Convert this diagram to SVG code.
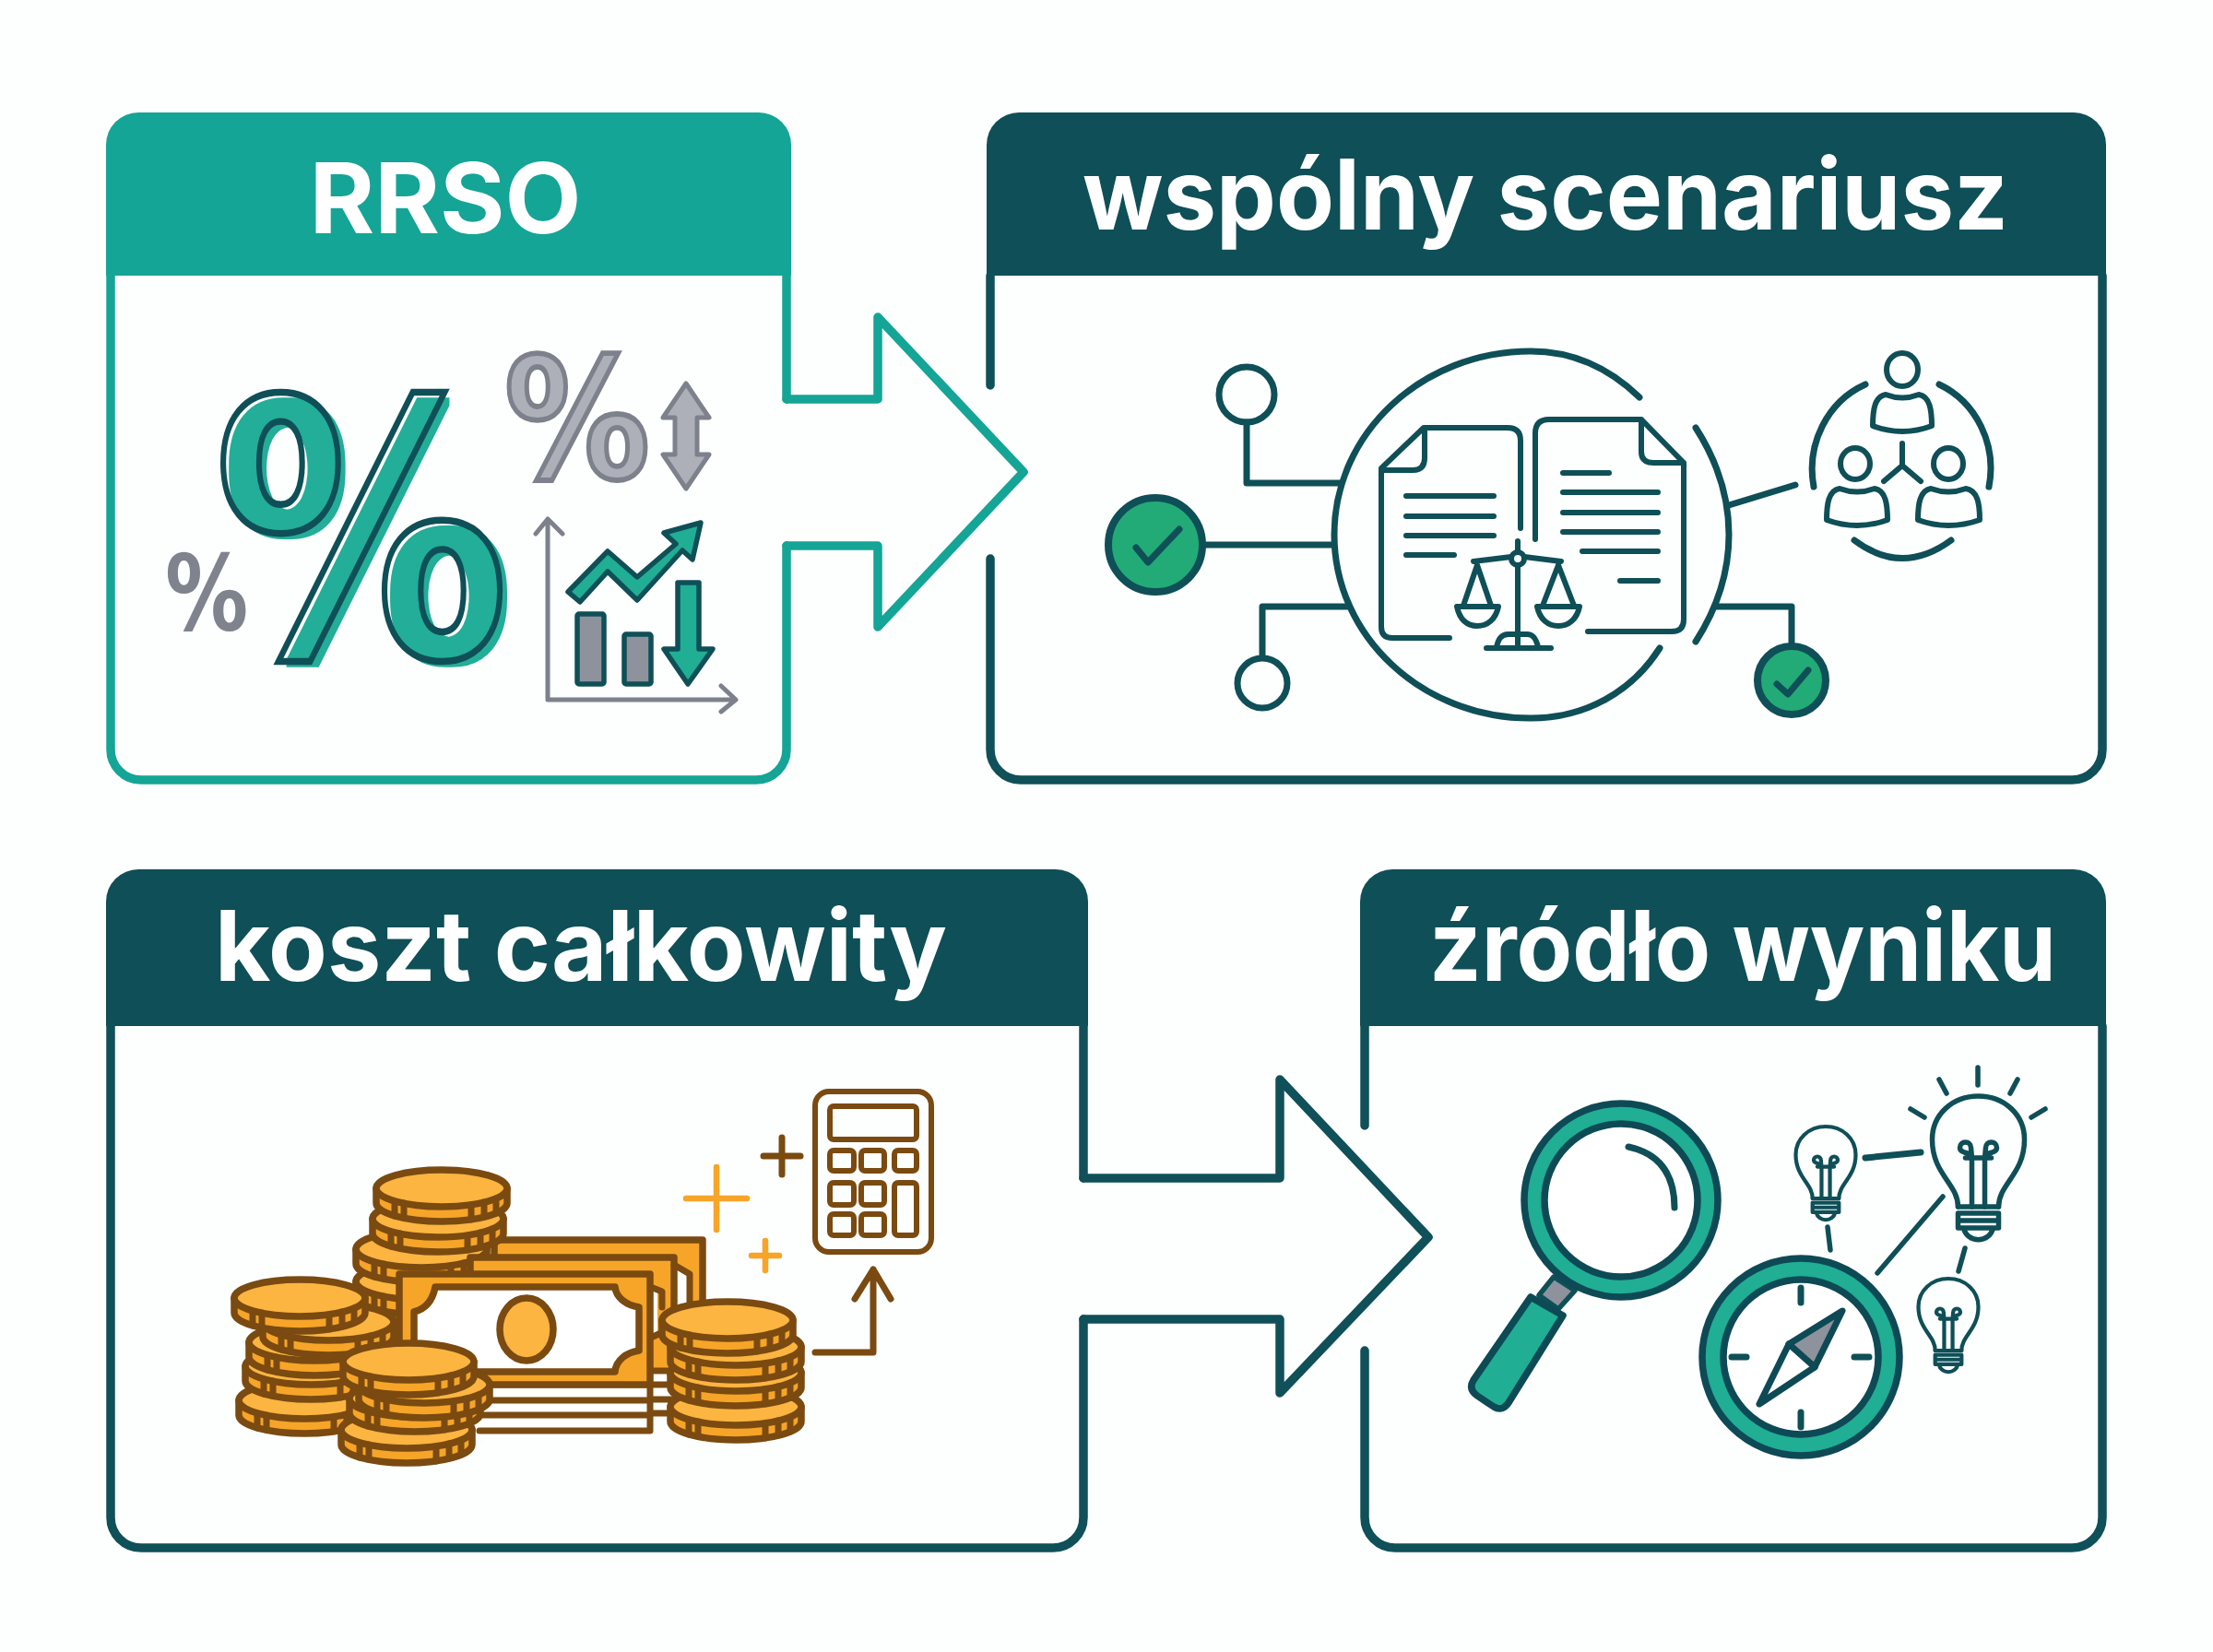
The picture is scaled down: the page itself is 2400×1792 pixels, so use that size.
<svg xmlns="http://www.w3.org/2000/svg" xmlns:xlink="http://www.w3.org/1999/xlink" width="2400" height="1792" viewBox="0 0 2400 1792">
<style>
.title{font-family:"Inter","Open Sans",sans-serif;font-weight:700;font-size:106px;fill:#fff}
.pct{font-family:"DejaVu Sans",sans-serif;font-weight:700;text-anchor:middle}
.b{fill:none;stroke-width:9.5;stroke-linecap:round;stroke-linejoin:round}
.tl{stroke:#14a596}.dk{stroke:#0f5059}
.l{fill:none;stroke:#0f4f57;stroke-width:7;stroke-linecap:round;stroke-linejoin:round}
.t{fill:none;stroke:#0f4f57;stroke-width:6;stroke-linecap:round;stroke-linejoin:round}
.g{fill:none;stroke:#7c818b;stroke-width:5;stroke-linecap:round;stroke-linejoin:round}
.br{fill:none;stroke:#7a4a10;stroke-width:7;stroke-linecap:round;stroke-linejoin:round}
.o{fill:#f6a528;stroke:#7a4a10;stroke-width:7.5;stroke-linejoin:round}
.ol{fill:#fbb540;stroke:#7a4a10;stroke-width:7.5}
.ring{fill:#20ae94;stroke:#0d4a55;stroke-width:7.5;stroke-linejoin:round}
.w{fill:#fff;stroke:#0d4a55;stroke-width:7.5;stroke-linejoin:round}
.gr{fill:#8e929c;stroke:#0f4f57;stroke-width:5.5;stroke-linejoin:round}
.ok{fill:#22ab77;stroke:#0f4f57;stroke-width:8}
</style>
<defs>
<filter id="offsetFill" x="-10%" y="-10%" width="125%" height="125%" color-interpolation-filters="sRGB">
<feColorMatrix in="SourceGraphic" type="matrix" values="0 0 0 0 0 0 0 0 0 0 0 0 0 0 0 1 0 0 0 0" result="r"/>
<feComposite in="r" in2="SourceAlpha" operator="in" result="rm"/>
<feMorphology in="rm" operator="dilate" radius="4.5" result="rd"/>
<feOffset in="rd" dx="8" dy="6" result="ro"/>
<feFlood flood-color="#22ae98" result="tc"/>
<feComposite in="tc" in2="ro" operator="in" result="teal"/>
<feColorMatrix in="SourceGraphic" type="matrix" values="0 0 0 0 0 0 0 0 0 0 0 0 0 0 0 0 0 1 0 0" result="bl"/>
<feComposite in="bl" in2="SourceAlpha" operator="in" result="bm"/>
<feFlood flood-color="#0f4f57" result="dc"/>
<feComposite in="dc" in2="bm" operator="in" result="dark"/>
<feMerge><feMergeNode in="teal"/><feMergeNode in="dark"/></feMerge>
</filter>
<g id="coin">
<path class="o" d="M-71 0V16A71 20 0 0 0 71 16V0Z"/>
<ellipse class="ol" cx="0" cy="0" rx="71" ry="20"/>
<path class="br" d="M-51 14V30M-41 16V32M32 18V34M46 15V31M59 11V27"/>
</g>
<g id="bulb">
<path d="M-22 120C-22 95-50 85-50 47C-50 20-28 0 0 0C28 0 50 20 50 47C50 85 22 95 22 120"/>
<path d="M-7 120V67C-7 60-20 63-20 56C-20 48-8 48-8 56L-7 67M7 120V67C7 60 20 63 20 56C20 48 8 48 8 56L7 67M-14 67H14"/>
<path d="M-22 120H22M-22 127H22V143H-22ZM-22 135H22M-16 143C-12 160 12 160 16 143"/>
</g>
</defs>
<rect width="2400" height="1792" fill="#fdfefe"/>

<g id="connectors">
<path class="b tl" d="M853 433H952V344L1110 512L952 680V592H853"/>
<path class="b dk" d="M1175 1278H1388V1171L1549 1342L1388 1511V1431H1175"/>
</g>

<g id="node-rrso">
<path d="M115 299V157A35 35 0 0 1 150 122H823A35 35 0 0 1 858 157V299Z" fill="#14a596"/>
<path class="b tl" d="M853 299V433M853 592V813A33 33 0 0 1 820 846H153A33 33 0 0 1 120 813V299"/>
<text class="title" x="483" y="253" text-anchor="middle" textLength="295" lengthAdjust="spacingAndGlyphs">RRSO</text>
<text class="pct" filter="url(#offsetFill)" transform="translate(392 712) scale(.82 .99)" font-size="390" fill="#f00" stroke="#00f" stroke-width="7.5">%</text>
<text class="pct" transform="translate(626 518) scale(.83 .96)" font-size="190" fill="#adb0b8" stroke="#7c818b" stroke-width="6">%</text>
<text class="pct" transform="translate(224 683) scale(.79 1)" font-size="114" fill="#7e838d">%</text>
<path d="M744 416L769 453H756V493H769L744 530L719 493H732V453H719Z" fill="#adb0b8" stroke="#7c818b" stroke-width="5" stroke-linejoin="round"/>
<path class="g" d="M594 563V759H798M581 579L594 563L610 579M782 744L798 759L782 772"/>
<rect class="gr" x="626" y="666" width="29" height="76" rx="2"/>
<rect class="gr" x="677" y="688" width="29" height="54" rx="2"/>
<path d="M735 632H758V704H773L746 742L720 704H735Z" fill="#20ae94" stroke="#0f4f57" stroke-width="5.5" stroke-linejoin="round"/>
<path d="M616 642L659 598L691 626L733 590L720 578L760 567L751 607L740 597L691 651L659 620L629 653Z" fill="#20ae94" stroke="#0f4f57" stroke-width="5.5" stroke-linejoin="round"/>
</g>

<g id="node-scenario">
<path d="M1070 299V157A35 35 0 0 1 1105 122H2249A35 35 0 0 1 2284 157V299Z" fill="#0f4f57"/>
<path class="b dk" d="M1074 299V418M1074 606V813A33 33 0 0 0 1107 846H2247A33 33 0 0 0 2280 813V299"/>
<text class="title" x="1676" y="249" text-anchor="middle" textLength="1004" lengthAdjust="spacingAndGlyphs">wspólny scenariusz</text>
<path class="l" d="M1778 431C1745 399 1705 381 1660 381C1542 381 1447 470 1447 580C1447 690 1542 779 1660 779C1720 779 1770 750 1800 703M1839 464Q1875 520 1875 580Q1875 640 1839 696"/>
<circle class="l" cx="1352" cy="428" r="30"/>
<path class="l" d="M1352 458V524H1453M1305 591H1446M1369 713V658H1461M1943 700V658H1862M1875 548L1947 526"/>
<circle class="ok" cx="1253" cy="591" r="51"/>
<path class="l" d="M1232 594L1245 610L1279 574"/>
<circle class="l" cx="1369" cy="741" r="27"/>
<circle class="ok" cx="1943" cy="738" r="37"/>
<path class="l" d="M1927 742L1939 753L1961 727"/>
<path class="t" d="M1649 573V478Q1649 464 1635 464H1544L1498 508V680Q1498 692 1510 692H1572M1545 464V497Q1545 510 1532 510H1498"/>
<path class="t" d="M1665 585V470Q1665 455 1680 455H1780L1826 502V672Q1826 685 1813 685H1722M1780 455V490Q1780 502 1793 502H1826"/>
<path class="t" d="M1525 538H1620M1525 560H1620M1525 581H1620M1525 602H1577M1695 513H1745M1695 534H1798M1695 556H1798M1695 577H1798M1716 598H1798M1757 630H1798"/>
<path class="t" d="M1646 587V599M1646 613V699M1612 703H1682M1623 702C1625 693 1628 688 1636 688H1656C1663 688 1666 693 1668 702M1598 609L1639 604M1653 604L1693 609M1602 613L1587 657M1602 613L1617 657M1690 613L1673 657M1690 613L1707 657M1580 658H1625C1622 672 1613 679 1602 679C1591 679 1583 672 1580 658ZM1667 658H1713C1710 672 1701 679 1690 679C1679 679 1670 672 1667 658Z"/>
<circle class="t" cx="1646" cy="606" r="7"/>
<path class="l" d="M2023 417A95 100 0 0 0 1967 528M2103 417A95 100 0 0 1 2157 528M2011 586Q2063 625 2116 586"/>
<path class="t" d="M2063 481V505M2063 505L2043 522M2063 505L2083 522"/>
<g class="t">
<ellipse cx="2063" cy="401" rx="17" ry="18"/>
<path d="M2031 462C2031 445 2033 430 2045 428Q2063 435 2081 428C2093 430 2095 445 2095 462Q2063 474 2031 462Z"/>
<ellipse cx="2012" cy="503" rx="16" ry="17"/>
<path d="M1981 564C1981 547 1983 532 1995 530Q2014 537 2033 530C2045 532 2047 547 2047 564Q2014 576 1981 564Z"/>
<ellipse cx="2113" cy="503" rx="16" ry="17"/>
<path d="M2080 564C2080 547 2082 532 2094 530Q2113 537 2132 530C2145 532 2147 547 2147 564Q2113 576 2080 564Z"/>
</g>
</g>

<g id="node-cost">
<path d="M115 1113V978A35 35 0 0 1 150 943H1145A35 35 0 0 1 1180 978V1113Z" fill="#0f4f57"/>
<path class="b dk" d="M1175 1113V1278M1175 1431V1646A33 33 0 0 1 1142 1679H153A33 33 0 0 1 120 1646V1113"/>
<text class="title" x="630" y="1064" text-anchor="middle" textLength="794" lengthAdjust="spacingAndGlyphs">koszt całkowity</text>
<use xlink:href="#coin" href="#coin" x="457" y="1390"/>
<use xlink:href="#coin" href="#coin" x="457" y="1355"/>
<path class="o" d="M536 1345H762V1480H536Z"/>
<path d="M731 1372L747 1380V1420H731Z" fill="#fff"/>
<path class="o" d="M510 1364H731V1490H510Z"/>
<path class="br" d="M731 1372L748 1382V1415"/>
<path d="M707 1487H730V1535H707Z" fill="#fff"/>
<path d="M705 1400L718 1404V1450L710 1456H730V1487H705Z" fill="#f6a528"/>
<path d="M707 1398H713V1446H707Z" fill="#fff"/>
<path class="br" d="M708 1397L718 1401V1418M708 1450L730 1440M708 1487H730M708 1502H730M708 1518H730M708 1533H730"/>
<path d="M520 1502H705V1552H520Z" fill="#fff"/>
<path class="br" d="M520 1502H705M520 1519H705M520 1535H705M520 1552H705M705 1502V1552"/>
<path class="o" d="M433 1382H705V1502H433Z"/>
<path d="M472 1396H667C668 1408 680 1416 693 1418V1465C680 1467 668 1475 667 1488H472C469 1473 461 1465 449 1462V1423C461 1420 469 1412 472 1396Z" fill="#fff" stroke="#7a4a10" stroke-width="7.5" stroke-linejoin="round"/>
<ellipse class="ol" cx="571" cy="1442" rx="29" ry="34"/>
<use xlink:href="#coin" href="#coin" x="475" y="1322"/>
<use xlink:href="#coin" href="#coin" x="479" y="1289"/>
<use xlink:href="#coin" href="#coin" x="330" y="1519"/>
<use xlink:href="#coin" href="#coin" x="337" y="1482"/>
<use xlink:href="#coin" href="#coin" x="341" y="1456"/>
<use xlink:href="#coin" href="#coin" x="356" y="1434"/>
<use xlink:href="#coin" href="#coin" x="325" y="1408"/>
<use xlink:href="#coin" href="#coin" x="441" y="1551"/>
<use xlink:href="#coin" href="#coin" x="450" y="1517"/>
<use xlink:href="#coin" href="#coin" x="460" y="1502"/>
<use xlink:href="#coin" href="#coin" x="443" y="1477"/>
<use xlink:href="#coin" href="#coin" x="798" y="1526"/>
<use xlink:href="#coin" href="#coin" x="798" y="1489"/>
<use xlink:href="#coin" href="#coin" x="798" y="1461"/>
<use xlink:href="#coin" href="#coin" x="789" y="1432"/>
<path d="M744 1300H810M777 1266V1334M815 1362H845M830 1346V1378" fill="none" stroke="#f6a528" stroke-width="6.5" stroke-linecap="round"/>
<path class="br" d="M828 1254H868M848 1234V1274"/>
<rect class="br" x="884" y="1184" width="126" height="174" rx="15" style="stroke-width:6"/>
<rect class="br" x="900" y="1200" width="94" height="36" rx="4" style="stroke-width:6"/>
<g class="br" style="stroke-width:6">
<rect x="900" y="1248" width="26" height="22" rx="4"/><rect x="934" y="1248" width="25" height="22" rx="4"/><rect x="970" y="1248" width="24" height="22" rx="4"/>
<rect x="900" y="1283" width="26" height="24" rx="4"/><rect x="934" y="1283" width="25" height="24" rx="4"/><rect x="970" y="1283" width="24" height="57" rx="4"/>
<rect x="900" y="1317" width="26" height="23" rx="4"/><rect x="934" y="1317" width="25" height="23" rx="4"/>
</g>
<path class="br" d="M884 1467H947V1377M927 1409L947 1377L966 1409"/>
</g>

<g id="node-source">
<path d="M1475 1113V978A35 35 0 0 1 1510 943H2249A35 35 0 0 1 2284 978V1113Z" fill="#0f4f57"/>
<path class="b dk" d="M1480 1113V1221M1480 1465V1646A33 33 0 0 0 1513 1679H2247A33 33 0 0 0 2280 1646V1113"/>
<text class="title" x="1890" y="1064" text-anchor="middle" textLength="680" lengthAdjust="spacingAndGlyphs">źródło wyniku</text>
<path class="gr" d="M1685 1385L1708 1400L1690 1420L1669 1405Z"/>
<path class="ring" d="M1660 1407L1695 1427L1637 1520Q1630 1532 1620 1526L1602 1514Q1592 1507 1598 1497Z"/>
<circle class="ring" cx="1758" cy="1302" r="105"/>
<circle class="w" cx="1758" cy="1302" r="83"/>
<path class="l" d="M1766 1244Q1816 1255 1816 1310"/>
<circle class="ring" cx="1953" cy="1472" r="107"/>
<circle class="w" cx="1953" cy="1472" r="84"/>
<path class="l" d="M1953 1397V1413M1953 1532V1548M1878 1472H1894M2011 1472H2027"/>
<path class="gr" d="M1998 1422L1940 1458L1968 1483Z" style="stroke:#0d4a55;stroke-width:7"/>
<path class="w" d="M1940 1458L1908 1523L1968 1483Z" style="stroke-width:7"/>
<g class="t" transform="translate(2145.5 1189)" style="stroke-width:5.5"><use xlink:href="#bulb" href="#bulb"/></g>
<g class="t" transform="translate(1980 1222) scale(.65)" style="stroke-width:6.5"><use xlink:href="#bulb" href="#bulb"/></g>
<g class="t" transform="translate(2113 1387) scale(.65)" style="stroke-width:6.5"><use xlink:href="#bulb" href="#bulb"/></g>
<path class="t" d="M2145 1158V1177M2103 1171L2111 1186M2188 1171L2180 1186M2072 1203L2087 1212M2218 1203L2203 1212M1982 1331L1985 1356M2107 1298L2036 1381M2131 1354L2124 1379" style="stroke-width:5.5"/>
<path class="l" d="M2023 1256L2083 1250"/>
</g>
</svg>
